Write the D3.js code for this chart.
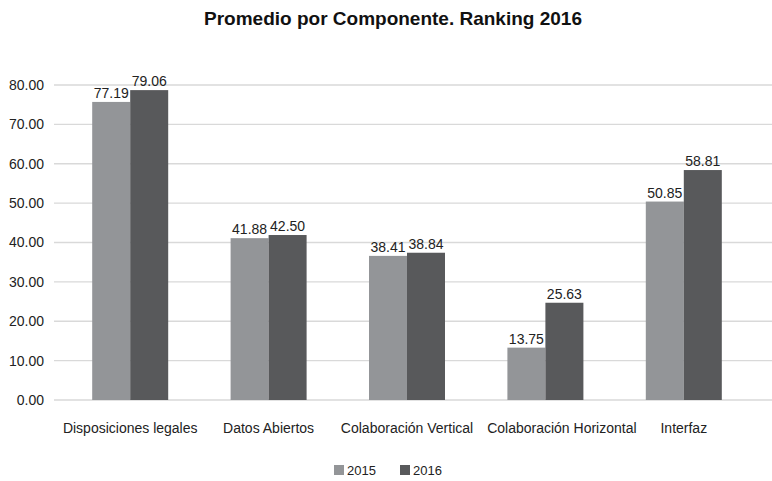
<!DOCTYPE html>
<html><head><meta charset="utf-8">
<script src="https://cdn.jsdelivr.net/npm/d3@7"></script>
<style>body{margin:0;background:#fff;} text{font-family:"Liberation Sans",Arial,Helvetica,sans-serif;}</style>
</head><body>
<svg id="chart" width="772" height="481"></svg>
<script>
const categories = ["Disposiciones legales","Datos Abiertos","Colaboración Vertical","Colaboración Horizontal","Interfaz"];
const seriesNames = ["2015","2016"];
// bar heights as drawn in the picture
const bars2015 = [75.7, 41.1, 36.6, 13.3, 50.4];
const bars2016 = [78.7, 41.9, 37.4, 24.7, 58.4];
// data labels as printed
const labels2015 = ["77.19","41.88","38.41","13.75","50.85"];
const labels2016 = ["79.06","42.50","38.84","25.63","58.81"];
const yTicks = [0,10,20,30,40,50,60,70,80];
const colors = ["#939598","#58595b"];

const svg = d3.select("#chart");
const y = d3.scaleLinear().domain([0,80]).range([400,85]);
const x0 = d3.scaleBand().domain(categories).range([61,753]).paddingInner(0).paddingOuter(0);
const bw = 38;
const x1 = d3.scaleBand().domain(seriesNames).range([0, bw*2]);
const FONT = "'Liberation Sans',Arial,Helvetica,sans-serif";

svg.append("text").attr("x",393).attr("y",25).attr("text-anchor","middle")
  .attr("font-size",19).attr("font-weight","bold").attr("fill","#111").text("Promedio por Componente. Ranking 2016");

// gridlines
svg.append("g").selectAll("line").data(yTicks).join("line")
  .attr("x1",54).attr("x2",772).attr("y1",d=>y(d)).attr("y2",d=>y(d))
  .attr("stroke","#d9d9d9").attr("stroke-width",1.3);

// y axis labels
const yAxis = d3.axisLeft(y).tickValues(yTicks).tickFormat(d3.format(".2f")).tickSize(0).tickPadding(0);
const ga = svg.append("g").attr("transform","translate(44,0)").call(yAxis);
ga.select(".domain").remove();
ga.selectAll("text").attr("font-size",14).attr("fill","#222").style("font-family",FONT);

const data = categories.map((c,i)=>({c, vals:[
  {s:"2015", v:bars2015[i], l:labels2015[i]},
  {s:"2016", v:bars2016[i], l:labels2016[i]}]}));

const g = svg.append("g").selectAll("g").data(data).join("g")
  .attr("transform",d=>`translate(${x0(d.c)+x0.bandwidth()/2-bw},0)`);
g.selectAll("rect").data(d=>d.vals).join("rect")
  .attr("x",d=>x1(d.s)).attr("width",x1.bandwidth())
  .attr("y",d=>y(d.v)).attr("height",d=>y(0)-y(d.v))
  .attr("fill",(d,i)=>colors[i]);
g.selectAll("text").data(d=>d.vals).join("text")
  .attr("x",d=>x1(d.s)+x1.bandwidth()/2).attr("y",d=>y(d.v)-4)
  .attr("text-anchor","middle").attr("font-size",14).attr("fill","#222").text(d=>d.l);

// x labels
const xAxis = d3.axisBottom(x0).tickSize(0).tickPadding(0);
const gx = svg.append("g").attr("transform","translate(0,423)").call(xAxis);
gx.select(".domain").remove();
gx.selectAll("text").attr("font-size",14).attr("fill","#222").style("font-family",FONT);
// push overlapping category labels apart (as the original layout does)
let prevRight = -Infinity;
gx.selectAll(".tick text").each(function(){
  const b = this.getBBox();
  const tr = this.parentNode.transform.baseVal.consolidate().matrix.e;
  let left = tr + b.x;
  if (left < prevRight + 14) {
    const dx = prevRight + 14 - left;
    d3.select(this).attr("dx", dx);
    left += dx;
  }
  prevRight = left + b.width;
});

// legend
const leg = svg.append("g").selectAll("g").data(seriesNames).join("g")
  .attr("transform",(d,i)=>`translate(${334+i*66},465)`);
leg.append("rect").attr("width",10).attr("height",10).attr("y",0).attr("fill",(d,i)=>colors[i]);
leg.append("text").attr("x",13).attr("y",10).attr("font-size",13).attr("fill","#222").text(d=>d);
</script>
</body></html>
